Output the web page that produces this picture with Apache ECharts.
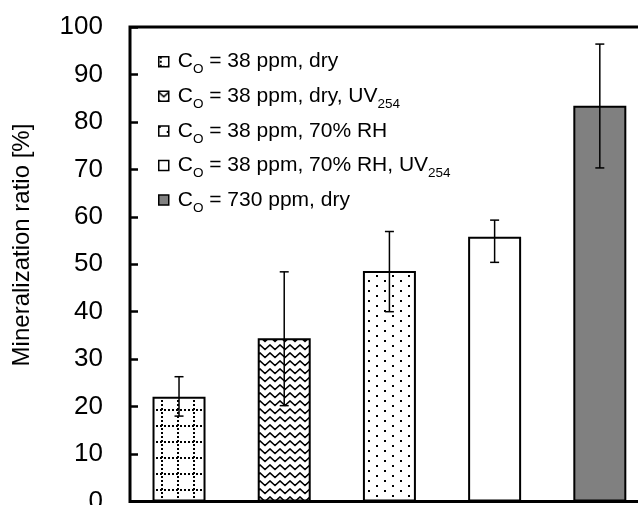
<!DOCTYPE html>
<html>
<head>
<meta charset="utf-8">
<script src="https://cdn.jsdelivr.net/npm/echarts@6/dist/echarts.min.js"></script>
<style>html,body{margin:0;padding:0;background:#fff;}#c{width:638px;height:505px;}</style>
</head>
<body>
<div id="c"></div>
<script>
// ---- data ----
const categories = [
  'C{s|O} = 38 ppm, dry',
  'C{s|O} = 38 ppm, dry, UV{s|254}',
  'C{s|O} = 38 ppm, 70% RH',
  'C{s|O} = 38 ppm, 70% RH, UV{s|254}',
  'C{s|O} = 730 ppm, dry'
];
const positions = [0, 1, 2, 3, 4];
const values = [22.1, 34.4, 48.6, 55.8, 83.4];
const errLow = [18.0, 20.2, 40.0, 50.4, 70.3];
const errHigh = [26.3, 48.4, 56.9, 59.3, 96.4];
const yTicks = [0, 10, 20, 30, 40, 50, 60, 70, 80, 90, 100];

// ---- patterns ----
function tile(w, h, draw) {
  const c = document.createElement('canvas');
  c.width = w; c.height = h;
  const g = c.getContext('2d');
  g.fillStyle = '#fff'; g.fillRect(0, 0, w, h);
  g.fillStyle = '#000'; g.strokeStyle = '#000';
  draw(g);
  return { image: c, repeat: 'repeat' };
}
const patGrid = tile(16, 16, g => {
  for (let x = 0; x < 16; x += 4) g.fillRect(x, 9, 2, 2);
  for (let y = 0; y < 16; y += 4) g.fillRect(1, y, 2, 2);
});
const patZig = tile(10, 8, g => {
  g.lineWidth = 1.6;
  g.beginPath(); g.moveTo(-1, 0.5); g.lineTo(0, 1); g.lineTo(5, 5.5); g.lineTo(10, 1); g.lineTo(11, 0.5); g.stroke();
});
const patDots = tile(16, 10, g => {
  g.fillRect(0, 0, 2, 2);
  g.fillRect(8, 5, 2, 2);
});
const fills = [patGrid, patZig, patDots, '#ffffff', '#808080'];

const FONT = 'Liberation Sans, Arial, sans-serif';
const chart = echarts.init(document.getElementById('c'), null, { renderer: 'canvas' });

const barSeries = categories.map((name, i) => ({
  type: 'bar',
  name: name,
  data: [[positions[i], values[i]]],
  barWidth: 53,
  barGap: '-100%',
  itemStyle: { color: fills[i], borderColor: '#000', borderWidth: 2 },
  z: 2
}));

const errSeries = {
  type: 'custom',
  name: 'err',
  z: 5,
  data: positions.map((p, i) => [p, errLow[i], errHigh[i]]),
  renderItem: function (params, api) {
    const x = api.value(0);
    const lo = api.coord([x, api.value(1)]);
    const hi = api.coord([x, api.value(2)]);
    const cw = 4.5;
    const st = { stroke: '#000', lineWidth: 1.5 };
    return {
      type: 'group',
      children: [
        { type: 'line', shape: { x1: lo[0], y1: lo[1], x2: hi[0], y2: hi[1] }, style: st },
        { type: 'line', shape: { x1: hi[0] - cw, y1: hi[1], x2: hi[0] + cw, y2: hi[1] }, style: st },
        { type: 'line', shape: { x1: lo[0] - cw, y1: lo[1], x2: lo[0] + cw, y2: lo[1] }, style: st }
      ]
    };
  }
};

chart.setOption({
  animation: false,
  backgroundColor: '#fff',
  grid: { left: 130, right: -10, top: 27, bottom: 3.5, show: true, borderColor: '#000', borderWidth: 3, backgroundColor: 'transparent', containLabel: false, outerBoundsMode: 'none' },
  xAxis: {
    type: 'value', min: -0.466, max: 4.458,
    axisLine: { show: false, onZero: false }, axisTick: { show: false }, axisLabel: { show: false }, splitLine: { show: false }
  },
  yAxis: {
    type: 'value', min: yTicks[0], max: yTicks[yTicks.length - 1], interval: 10,
    axisLine: { show: false, onZero: false },
    axisTick: { show: true, inside: true, length: 8, lineStyle: { color: '#000', width: 2.5 } },
    axisLabel: { color: '#000', fontSize: 26, fontFamily: FONT, margin: 27 },
    splitLine: { show: false }
  },
  legend: {
    data: categories,
    orient: 'vertical',
    left: 158, top: 46.7, padding: 0,
    itemGap: 4.6, itemWidth: 10, itemHeight: 10,
    icon: 'rect',
    itemStyle: { borderColor: '#000', borderWidth: 1.5 },
    selectedMode: false,
    textStyle: {
      color: '#000', fontSize: 21, lineHeight: 30, fontFamily: FONT, padding: [0, 0, 0, 4],
      rich: { s: { fontSize: 13.5, lineHeight: 22, verticalAlign: 'bottom', fontFamily: FONT, color: '#000' } }
    }
  },
  graphic: [{
    type: 'text', x: 22.5, y: 245, rotation: Math.PI / 2,
    style: { text: 'Mineralization ratio [%]', fontSize: 24, fontFamily: FONT, fill: '#000', align: 'center', verticalAlign: 'middle' }
  }],
  series: barSeries.concat([errSeries])
});
</script>
</body>
</html>
